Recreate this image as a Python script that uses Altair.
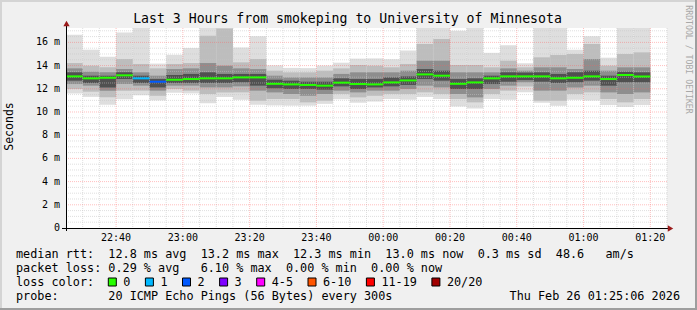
import altair as alt
import pandas as pd

# ---------------- data ----------------
bar_times = ["22:25", "22:30", "22:35", "22:40", "22:45", "22:50", "22:55",
             "23:00", "23:05", "23:10", "23:15", "23:20", "23:25", "23:30", "23:35",
             "23:40", "23:45", "23:50", "23:55",
             "00:00", "00:05", "00:10", "00:15", "00:20", "00:25", "00:30", "00:35",
             "00:40", "00:45", "00:50", "00:55",
             "01:00", "01:05", "01:10", "01:15"]

median_ms = [13.07, 12.90, 12.95, 13.16, 12.90, 12.61, 12.78, 12.84, 12.90, 12.90,
             12.98, 12.98, 12.43, 12.38, 12.33, 12.27, 12.53, 12.41, 12.38, 12.55,
             12.72, 13.24, 13.13, 12.43, 12.55, 12.90, 13.07, 13.07, 13.07, 12.90,
             12.95, 13.07, 12.84, 13.19, 13.06]

loss_class = ["0", "0", "0", "0", "1", "2", "0", "0", "0", "0",
              "0", "0", "0", "0", "0", "0", "0", "0", "0", "0",
              "0", "0", "0", "0", "0", "0", "0", "0", "0", "0",
              "0", "0", "0", "0", "0"]

smoke_min = [11.60, 11.30, 10.63, 11.10, 11.45, 11.00, 11.66, 11.60, 10.75, 11.30,
             11.06, 10.63, 10.57, 10.55, 10.55, 10.70, 11.10, 10.80, 10.90, 11.12,
             11.06, 11.30, 11.12, 10.48, 10.31, 11.12, 11.06, 11.70, 10.80, 10.54,
             11.06, 11.00, 10.60, 10.42, 10.60]
smoke_max = [16.66, 15.37, 14.77, 16.86, 17.60, 14.17, 14.93, 15.52, 17.60, 17.60,
             15.55, 16.52, 14.02, 13.80, 13.78, 14.00, 14.25, 14.60, 14.62, 14.55,
             15.30, 17.60, 17.60, 17.00, 17.60, 15.10, 15.75, 14.20, 17.60, 17.60,
             15.37, 16.52, 14.68, 17.60, 17.60]

band3_lo = [11.98, 11.75, 11.26, 11.84, 11.84, 11.40, 11.98, 11.84, 11.55, 11.69,
            11.69, 10.97, 11.12, 11.12, 10.83, 10.97, 11.55, 11.26, 11.40, 11.55,
            11.55, 11.69, 11.55, 11.12, 10.83, 11.55, 11.84, 12.20, 10.97, 10.97,
            11.55, 11.69, 11.12, 10.83, 11.12]
band3_hi = [14.22, 13.99, 13.85, 14.57, 14.14, 13.76, 14.14, 14.22, 16.58, 17.20,
            14.28, 14.57, 13.56, 13.42, 13.42, 13.56, 13.76, 14.05, 13.99, 13.85,
            14.14, 15.86, 16.29, 14.05, 14.05, 13.85, 14.42, 13.85, 14.71, 14.91,
            15.00, 15.86, 13.99, 15.00, 15.14]

band6_lo = [12.41, 12.27, 11.84, 12.41, 12.27, 11.84, 12.27, 12.27, 12.12, 12.12,
            12.21, 11.84, 11.69, 11.55, 11.40, 11.55, 11.84, 11.69, 11.84, 11.84,
            11.98, 12.27, 12.12, 11.55, 11.26, 11.98, 12.27, 12.56, 11.84, 11.84,
            12.12, 12.27, 11.69, 11.55, 11.69]
band6_hi = [13.76, 13.47, 13.42, 13.70, 13.42, 13.13, 13.70, 13.76, 14.22, 13.99,
            13.76, 13.70, 13.13, 12.98, 12.98, 12.98, 13.28, 13.42, 13.42, 13.42,
            13.56, 14.42, 14.42, 13.42, 13.42, 13.42, 13.76, 13.56, 13.85, 13.85,
            13.70, 14.57, 13.56, 13.85, 13.85]

band9_lo = [12.70, 12.50, 12.12, 12.84, 12.50, 12.12, 12.50, 12.50, 12.50, 12.50,
            12.56, 12.27, 12.04, 11.98, 11.98, 11.92, 12.21, 11.98, 12.12, 12.21,
            12.33, 12.84, 12.70, 11.98, 11.98, 12.41, 12.61, 12.75, 12.61, 12.50,
            12.56, 12.70, 12.27, 12.56, 12.56]
band9_hi = [13.42, 13.13, 13.13, 13.42, 13.13, 12.84, 13.19, 13.28, 13.42, 13.28,
            13.28, 13.28, 12.78, 12.70, 12.61, 12.61, 12.90, 12.84, 12.84, 12.98,
            13.07, 13.70, 13.56, 12.84, 12.90, 13.13, 13.42, 13.40, 13.42, 13.28,
            13.42, 13.56, 13.13, 13.47, 13.42]

x_tick_times = ["22:40", "23:00", "23:20", "23:40", "00:00", "00:20", "00:40", "01:00", "01:20"]
y_tick_values = [0, 2, 4, 6, 8, 10, 12, 14, 16]

title_text = "Last 3 Hours from smokeping to University of Minnesota"
legend_line1 = "median rtt:  12.8 ms avg  13.2 ms max  12.3 ms min  13.0 ms now  0.3 ms sd  48.6   am/s"
legend_line2 = "packet loss: 0.29 % avg   6.10 % max  0.00 % min  0.00 % now"
legend_line3 = "loss color:"
legend_line4 = "probe:       20 ICMP Echo Pings (56 Bytes) every 300s"
date_text = "Thu Feb 26 01:25:06 2026"
loss_labels = ["0", "1", "2", "3", "4-5", "6-10", "11-19", "20/20"]
loss_colors = ["#26ff00", "#00b8ff", "#0059ff", "#7e00ff", "#ff00ff", "#ff5500", "#ff0000", "#a10000"]

# ---------------- helpers ----------------
START = 22 * 60 + 25


def minute(t):
    h, m = map(int, t.split(":"))
    v = h * 60 + m
    if h < 12:
        v += 1440
    return v - START


def keep_spaces(s):
    return s.replace(" ", "\u00a0")


MONO = "DejaVu Sans Mono"
W, H = 601, 200
xs = alt.Scale(domain=[0, 180], nice=False, zero=False)
ys = alt.Scale(domain=[0, 17.24], nice=False, zero=False)
color_of = dict(zip(loss_labels, loss_colors))

rows = []
bands = [(smoke_min, smoke_max, "#dedede"), (band3_lo, band3_hi, "#bdbdbd"),
         (band6_lo, band6_hi, "#8e8e8e"), (band9_lo, band9_hi, "#505050")]
for k, (lo, hi, shade) in enumerate(bands):
    for i, t in enumerate(bar_times):
        s = minute(t)
        rows.append({"start": s, "end": s + 5, "lo": lo[i], "hi": hi[i], "shade": shade, "k": k})
smoke_df = pd.DataFrame(rows)

med_df = pd.DataFrame({
    "start": [minute(t) for t in bar_times],
    "end": [minute(t) + 5 for t in bar_times],
    "median": median_ms,
    "col": [color_of[c] for c in loss_class],
})

xt_df = pd.DataFrame({"m": [minute(t) for t in x_tick_times], "label": x_tick_times})
yt_df = pd.DataFrame({"v": y_tick_values,
                      "label": [keep_spaces("0" if v == 0 else f"{v} m") for v in y_tick_values]})

major_x = set(xt_df["m"])
minor_x_df = pd.DataFrame({"m": [m for m in range(5, 181, 5) if m not in major_x]})
major_x_df = pd.DataFrame({"m": sorted(major_x)})
minor_y_df = pd.DataFrame({"v": [v / 2 for v in range(1, 35) if v % 4 != 0]})
major_y_df = pd.DataFrame({"v": [v for v in y_tick_values if v > 0]})

dummy = pd.DataFrame({"a": [0]})

smoke = alt.Chart(smoke_df).mark_rect(clip=True, strokeWidth=0).encode(
    x=alt.X("start:Q", scale=xs, axis=None),
    x2="end:Q",
    y=alt.Y("lo:Q", scale=ys, axis=None),
    y2="hi:Q",
    color=alt.Color("shade:N", scale=None),
    order=alt.Order("k:Q"),
)

grid_minor_y = alt.Chart(minor_y_df).mark_rule(color="#c4c4c4", strokeDash=[1, 1], opacity=0.55).encode(
    y=alt.Y("v:Q", scale=ys, axis=None))
grid_minor_x = alt.Chart(minor_x_df).mark_rule(color="#c4c4c4", strokeDash=[1, 1], opacity=0.55).encode(
    x=alt.X("m:Q", scale=xs, axis=None))
grid_major_y = alt.Chart(major_y_df).mark_rule(color="#ff6060", strokeDash=[1, 1], opacity=0.4).encode(
    y=alt.Y("v:Q", scale=ys, axis=None))
grid_major_x = alt.Chart(major_x_df).mark_rule(color="#ff6060", strokeDash=[1, 1], opacity=0.4).encode(
    x=alt.X("m:Q", scale=xs, axis=None))

median_line = alt.Chart(med_df).mark_rule(strokeWidth=2).encode(
    x=alt.X("start:Q", scale=xs, axis=None),
    x2="end:Q",
    y=alt.Y("median:Q", scale=ys, axis=None),
    color=alt.Color("col:N", scale=None),
)

y_axis_line = alt.Chart(dummy).mark_rule(color="#000000", strokeWidth=1).encode(
    x=alt.value(0.5), y=alt.value(203), y2=alt.value(-2))
x_axis_line = alt.Chart(dummy).mark_rule(color="#000000", strokeWidth=1).encode(
    x=alt.value(-4), x2=alt.value(602), y=alt.value(200.5))
y_arrow = alt.Chart(dummy).mark_point(shape="triangle-up", filled=True, size=40, color="#9b1b1b", opacity=1).encode(
    x=alt.value(0.5), y=alt.value(-4.5))
x_arrow = alt.Chart(dummy).mark_point(shape="triangle-right", filled=True, size=40, color="#9b1b1b", opacity=1).encode(
    x=alt.value(604.5), y=alt.value(200.5))

y_labels = alt.Chart(yt_df).mark_text(align="right", baseline="middle", font=MONO, fontSize=10, color="#000000").encode(
    y=alt.Y("v:Q", scale=ys, axis=None), x=alt.value(-6), text="label:N")
x_labels = alt.Chart(xt_df).mark_text(align="center", baseline="middle", font=MONO, fontSize=10, color="#000000").encode(
    x=alt.X("m:Q", scale=xs, axis=None), y=alt.value(210), text="label:N")

title = alt.Chart(dummy).mark_text(align="center", baseline="alphabetic", font=MONO, fontSize=13.2,
                                   color="#000000", text=title_text).encode(
    x=alt.value(281.5), y=alt.value(-5.3))
y_title = alt.Chart(dummy).mark_text(align="center", baseline="middle", font=MONO, fontSize=11.5, angle=270,
                                     color="#000000", text="Seconds").encode(
    x=alt.value(-56), y=alt.value(98.5))
watermark = alt.Chart(dummy).mark_text(align="center", baseline="middle", font=MONO, fontSize=8.2, angle=90,
                                       color="#a8a8a8", text="RRDTOOL / TOBI OETIKER").encode(
    x=alt.value(622), y=alt.value(31.5))

LEG_X = -50
CH = 7.1
legend_df = pd.DataFrame({"text": [keep_spaces(s) for s in [legend_line1, legend_line2, legend_line3, legend_line4]],
                          "py": [230, 244, 258, 272]})
legend_text = alt.Chart(legend_df).mark_text(align="left", baseline="alphabetic", font=MONO, fontSize=11.8,
                                             color="#000000").encode(
    x=alt.value(LEG_X), y=alt.Y("py:Q", scale=None), text="text:N")
date = alt.Chart(dummy).mark_text(align="right", baseline="alphabetic", font=MONO, fontSize=11.8,
                                  color="#000000", text=keep_spaces(date_text)).encode(
    x=alt.value(614), y=alt.value(272))

bx, box_x, lab_x = 108.3 - 66, [], []
for lab in loss_labels:
    box_x.append(bx)
    lab_x.append(bx + 15)
    bx = bx + 15 + len(lab) * CH + 15
box_df = pd.DataFrame({"bx": box_x, "bx2": [b + 8 for b in box_x], "lx": lab_x,
                       "label": loss_labels, "col": loss_colors})
boxes = alt.Chart(box_df).mark_rect(stroke="#000000", strokeWidth=1).encode(
    x=alt.X("bx:Q", scale=None), x2="bx2:Q", y=alt.value(250), y2=alt.value(258),
    color=alt.Color("col:N", scale=None))
box_labels = alt.Chart(box_df).mark_text(align="left", baseline="alphabetic", font=MONO, fontSize=11.8,
                                         color="#000000").encode(
    x=alt.X("lx:Q", scale=None), y=alt.value(258), text="label:N")

frame_top = alt.Chart(dummy).mark_rule(color="#d4d4d4", strokeWidth=2).encode(
    x=alt.value(-66), x2=alt.value(631), y=alt.value(-27))
frame_left = alt.Chart(dummy).mark_rule(color="#d4d4d4", strokeWidth=2).encode(
    x=alt.value(-65), y=alt.value(-28), y2=alt.value(282))
frame_bottom = alt.Chart(dummy).mark_rule(color="#9e9e9e", strokeWidth=2).encode(
    x=alt.value(-66), x2=alt.value(631), y=alt.value(281))
frame_right = alt.Chart(dummy).mark_rule(color="#9e9e9e", strokeWidth=2).encode(
    x=alt.value(630), y=alt.value(-28), y2=alt.value(282))

chart = alt.layer(
    smoke, grid_minor_y, grid_minor_x, grid_major_y, grid_major_x, median_line,
    y_axis_line, x_axis_line, y_arrow, x_arrow, y_labels, x_labels,
    title, y_title, watermark, legend_text, date, boxes, box_labels,
    frame_top, frame_left, frame_bottom, frame_right,
).properties(
    width=W, height=H,
    padding={"left": 66, "top": 28, "right": 30, "bottom": 82},
    autosize=alt.AutoSizeParams(type="none"),
    background="#f0f0f0",
).configure_view(stroke=None, fill="#ffffff")

chart.save("out.html", embed_options={"renderer": "svg", "actions": False})
